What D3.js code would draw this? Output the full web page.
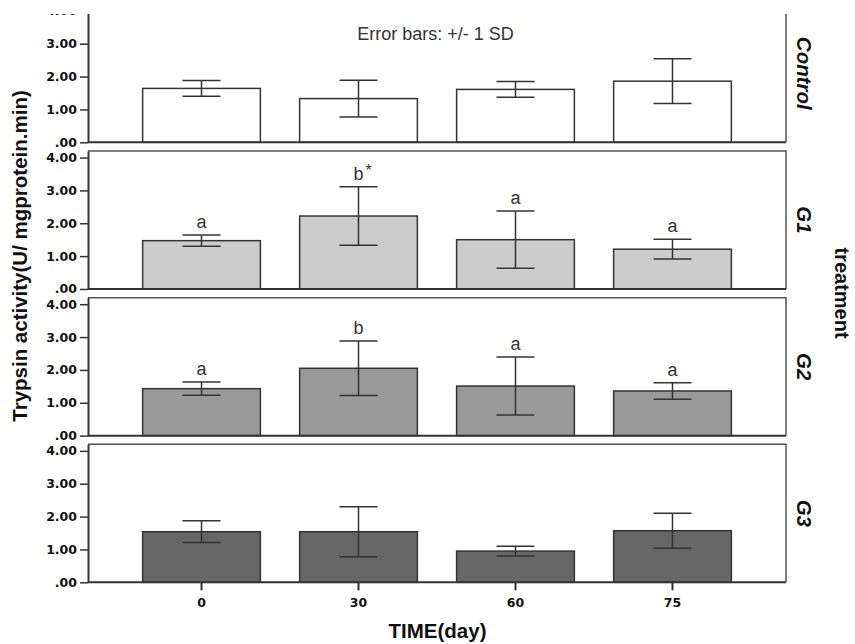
<!DOCTYPE html>
<html>
<head>
<meta charset="utf-8">
<script src="https://cdn.jsdelivr.net/npm/d3@7"></script>
<style>
  body { margin: 0; background: #fff; }
  svg { display: block; }
</style>
</head>
<body>
<svg width="855" height="644"></svg>
<script>
const days = ["0", "30", "60", "75"];
const groups = ["Control", "G1", "G2", "G3"];
const yTicks = [0, 1, 2, 3, 4];

// mean +/- 1 SD per day, one pair of arrays per treatment
const meanControl = [1.64, 1.33, 1.61, 1.86];
const sdControl = [0.24, 0.56, 0.24, 0.68];
const meanG1 = [1.47, 2.22, 1.50, 1.21];
const sdG1 = [0.17, 0.89, 0.87, 0.30];
const meanG2 = [1.43, 2.05, 1.51, 1.36];
const sdG2 = [0.20, 0.83, 0.88, 0.25];
const meanG3 = [1.54, 1.54, 0.95, 1.57];
const sdG3 = [0.33, 0.76, 0.15, 0.53];

// significance letters above the bars
const lettersG1 = ["a", "b*", "a", "a"];
const lettersG2 = ["a", "b", "a", "a"];

const fills = ["#ffffff", "#cccccc", "#999999", "#666666"];

const means = [meanControl, meanG1, meanG2, meanG3];
const sds = [sdControl, sdG1, sdG2, sdG3];
const letters = [null, lettersG1, lettersG2, null];

const panels = groups.map((name, i) => ({
    name,
    fill: fills[i],
    rows: days.map((day, j) => ({
        day,
        mean: means[i][j],
        sd: sds[i][j],
        letter: letters[i] ? letters[i][j] : ""
    }))
}));

const svg = d3.select("svg");
const left = 88, right = 786;
const firstZero = 142.3, panelStep = 146.67, panelHeight = 138;
const tickFont = "'DejaVu Sans', sans-serif";
const titleFont = "'Liberation Sans', Arial, sans-serif";

const x = d3.scaleBand()
    .domain(days)
    .range([left, right])
    .paddingInner(0.25)
    .paddingOuter(0.348);

const capW = 38;

svg.append("defs").append("clipPath")
    .attr("id", "topClip")
    .append("rect")
    .attr("x", 0).attr("y", 14)
    .attr("width", 855).attr("height", 200);

panels.forEach((p, i) => {
    const zero = firstZero + i * panelStep;
    const y = d3.scaleLinear().domain([0, 4.2]).range([zero, zero - panelHeight]);

    const g = svg.append("g");
    if (i === 0) g.attr("clip-path", "url(#topClip)");

    // frame: top and right edges
    g.append("path")
        .attr("d", `M${left},${y(4.2)}H${right}V${y(0)}`)
        .attr("fill", "none")
        .attr("stroke", "#555")
        .attr("stroke-width", 1.5);

    // bars
    g.selectAll(".bar")
        .data(p.rows)
        .enter()
        .append("rect")
        .attr("class", "bar")
        .attr("x", d => x(d.day))
        .attr("y", d => y(d.mean))
        .attr("width", x.bandwidth())
        .attr("height", d => y(0) - y(d.mean))
        .attr("fill", p.fill)
        .attr("stroke", "#333")
        .attr("stroke-width", 1.5);

    // error bars
    const eb = g.selectAll(".err")
        .data(p.rows)
        .enter()
        .append("g")
        .attr("class", "err")
        .attr("stroke", "#333")
        .attr("stroke-width", 1.5);

    eb.append("line")
        .attr("x1", d => x(d.day) + x.bandwidth() / 2)
        .attr("x2", d => x(d.day) + x.bandwidth() / 2)
        .attr("y1", d => y(d.mean + d.sd))
        .attr("y2", d => y(d.mean - d.sd));

    ["top", "bottom"].forEach(side => {
        eb.append("line")
            .attr("x1", d => x(d.day) + x.bandwidth() / 2 - capW / 2)
            .attr("x2", d => x(d.day) + x.bandwidth() / 2 + capW / 2)
            .attr("y1", d => y(side === "top" ? d.mean + d.sd : d.mean - d.sd))
            .attr("y2", d => y(side === "top" ? d.mean + d.sd : d.mean - d.sd));
    });

    // letters
    const lab = g.selectAll(".lab")
        .data(p.rows.filter(d => d.letter))
        .enter()
        .append("g")
        .attr("class", "lab")
        .attr("font-family", titleFont)
        .attr("fill", "#333");

    lab.append("text")
        .attr("x", d => x(d.day) + x.bandwidth() / 2)
        .attr("y", d => y(d.mean + d.sd) - 7)
        .attr("text-anchor", "middle")
        .attr("font-size", 18)
        .text(d => d.letter.replace("*", ""));

    lab.filter(d => d.letter.includes("*"))
        .append("text")
        .attr("x", d => x(d.day) + x.bandwidth() / 2 + 7)
        .attr("y", d => y(d.mean + d.sd) - 11)
        .attr("font-size", 16)
        .text("*");

    // y axis
    const ya = g.append("g")
        .attr("transform", `translate(${left},0)`)
        .call(d3.axisLeft(y)
            .tickValues(yTicks)
            .tickSize(8)
            .tickSizeOuter(0)
            .tickPadding(3)
            .tickFormat(d => d === 0 ? ".00" : d3.format(".2f")(d)));
    ya.select(".domain").attr("stroke", "#333").attr("stroke-width", 2);
    ya.selectAll(".tick line").attr("stroke", "#333").attr("stroke-width", 1.5);
    ya.selectAll(".tick text")
        .attr("font-family", tickFont)
        .attr("font-weight", "bold")
        .attr("font-size", 12.5)
        .attr("fill", "#111");

    // zero line
    g.append("line")
        .attr("x1", left).attr("x2", right)
        .attr("y1", y(0)).attr("y2", y(0))
        .attr("stroke", "#333")
        .attr("stroke-width", 2);

    // facet label
    svg.append("text")
        .attr("transform", `translate(797,${(y(0) + y(4.2)) / 2}) rotate(90)`)
        .attr("text-anchor", "middle")
        .attr("font-family", titleFont)
        .attr("font-weight", "bold")
        .attr("font-style", "italic")
        .attr("font-size", 20.5)
        .attr("fill", "#111")
        .text(p.name);

    if (i === panels.length - 1) {
        const xa = svg.append("g")
            .attr("transform", `translate(0,${y(0)})`)
            .call(d3.axisBottom(x).tickSize(8).tickPadding(8));
        xa.select(".domain").remove();
        xa.selectAll(".tick line").attr("stroke", "#333").attr("stroke-width", 2);
        xa.selectAll(".tick text")
            .attr("font-family", tickFont)
            .attr("font-weight", "bold")
            .attr("font-size", 12.5)
            .attr("fill", "#111");
    }
});

svg.append("text")
    .attr("x", 435.5)
    .attr("y", 40)
    .attr("text-anchor", "middle")
    .attr("font-family", titleFont)
    .attr("font-size", 18)
    .attr("fill", "#333")
    .text("Error bars: +/- 1 SD");

svg.append("text")
    .attr("x", 437.5)
    .attr("y", 638)
    .attr("text-anchor", "middle")
    .attr("font-family", titleFont)
    .attr("font-weight", "bold")
    .attr("font-size", 20.5)
    .attr("fill", "#111")
    .text("TIME(day)");

svg.append("text")
    .attr("transform", "translate(27,256) rotate(-90)")
    .attr("text-anchor", "middle")
    .attr("font-family", titleFont)
    .attr("font-weight", "bold")
    .attr("font-size", 20.5)
    .attr("fill", "#111")
    .text("Trypsin activity(U/ mgprotein.min)");

svg.append("text")
    .attr("transform", "translate(835,293) rotate(90)")
    .attr("text-anchor", "middle")
    .attr("font-family", titleFont)
    .attr("font-weight", "bold")
    .attr("font-size", 20)
    .attr("fill", "#111")
    .text("treatment");
</script>
</body>
</html>
